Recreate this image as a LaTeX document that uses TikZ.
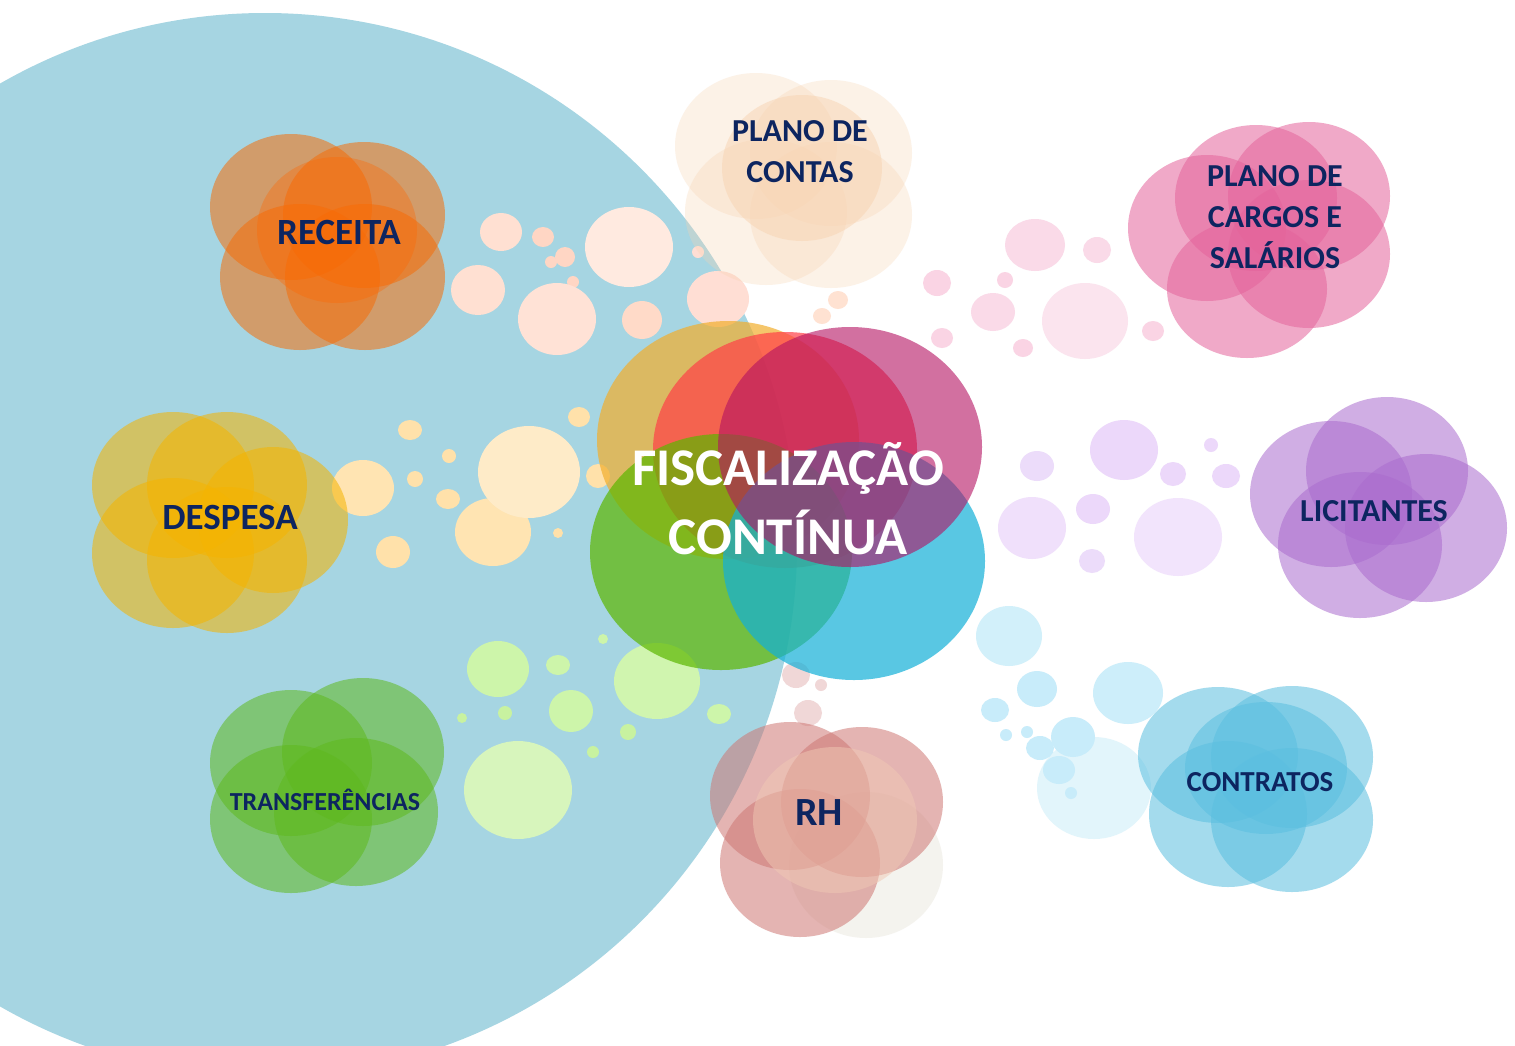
\documentclass[tikz,border=0pt]{standalone}
\usepackage{fontspec}
\setmainfont{Carlito}
\definecolor{sky}{HTML}{A6D5E2}
\definecolor{navy}{HTML}{0D2560}
\definecolor{cgold}{RGB}{242,174,45}
\definecolor{cred}{RGB}{255,63,72}
\definecolor{cmag}{RGB}{180,17,97}
\definecolor{cgreen}{RGB}{92,183,0}
\definecolor{ccyan}{RGB}{19,176,216}
\definecolor{corange}{RGB}{245,110,10}
\definecolor{cyellow}{RGB}{245,180,0}
\definecolor{cleaf}{RGB}{95,185,30}
\definecolor{cpeach}{HTML}{F8D4B2}
\definecolor{cpink}{HTML}{E4649B}
\definecolor{cviolet}{HTML}{AA6CCE}
\definecolor{cblue}{HTML}{5BBFE0}
\definecolor{crose}{HTML}{CE7773}
\begin{document}
\begin{tikzpicture}[x=1pt,y=-1pt,
  blob/.style={fill=#1,fill opacity=0.55},
  core/.style={fill=#1,fill opacity=0.7},
  tag/.style={text=navy,align=center,font=\bfseries\fontsize{#1}{41}\selectfont}]
\useasboundingbox (0,0) rectangle (1515,1045);
\clip (0,0) rectangle (1515,1045);
\fill[white] (0,0) rectangle (1515,1045);
\fill[sky] (265,545) circle (532pt);

% small bubbles
\fill[fill={rgb,255:red,255;green,224;blue,210}] (501,232) ellipse (21pt and 19pt);
\fill[fill={rgb,255:red,255;green,214;blue,196}] (543,237) ellipse (11pt and 10pt);
\fill[fill={rgb,255:red,255;green,214;blue,196}] (565,257) circle (10pt);
\fill[fill={rgb,255:red,255;green,214;blue,196}] (551,262) circle (6pt);
\fill[fill={rgb,255:red,255;green,214;blue,196}] (573,282) circle (6pt);
\fill[fill={rgb,255:red,255;green,224;blue,210}] (478,290) ellipse (27pt and 25pt);
\fill[fill={rgb,255:red,255;green,226;blue,214}] (557,319) ellipse (39pt and 36pt);
\fill[fill={rgb,255:red,255;green,234;blue,224}] (629,247) ellipse (44pt and 40pt);
\fill[fill={rgb,255:red,255;green,218;blue,200}] (642,320) ellipse (20pt and 19pt);
\fill[fill={rgb,255:red,255;green,222;blue,212}] (718,299) ellipse (31pt and 28pt);
\fill[fill={rgb,255:red,255;green,222;blue,212}] (698,252) circle (6pt);
\fill[fill={rgb,255:red,255;green,226;blue,210}] (838,300) ellipse (10pt and 9pt);
\fill[fill={rgb,255:red,255;green,226;blue,210}] (822,316) ellipse (9pt and 8pt);

\fill[fill={rgb,255:red,255;green,225;blue,170}] (410,430) ellipse (12pt and 10pt);
\fill[fill={rgb,255:red,255;green,225;blue,170}] (449,456) circle (7pt);
\fill[fill={rgb,255:red,255;green,225;blue,170}] (415,479) circle (8pt);
\fill[fill={rgb,255:red,255;green,225;blue,170}] (448,499) ellipse (12pt and 10pt);
\fill[fill={rgb,255:red,255;green,228;blue,178}] (363,488) ellipse (31pt and 28pt);
\fill[fill={rgb,255:red,255;green,225;blue,170}] (393,552) ellipse (17pt and 16pt);
\fill[fill={rgb,255:red,255;green,228;blue,178}] (493,532) ellipse (38pt and 34pt);
\fill[fill={rgb,255:red,254;green,235;blue,200}] (529,472) ellipse (51pt and 46pt);
\fill[fill={rgb,255:red,255;green,225;blue,170}] (579,417) ellipse (11pt and 10pt);
\fill[fill={rgb,255:red,255;green,225;blue,170}] (598,476) circle (12pt);
\fill[fill={rgb,255:red,255;green,225;blue,170}] (558,533) circle (5pt);

\fill[fill={rgb,255:red,205;green,245;blue,170}] (498,669) ellipse (31pt and 28pt);
\fill[fill={rgb,255:red,205;green,245;blue,170}] (558,665) ellipse (12pt and 10pt);
\fill[fill={rgb,255:red,205;green,245;blue,170}] (603,639) circle (5pt);
\fill[fill={rgb,255:red,200;green,242;blue,160}] (505,713) circle (7pt);
\fill[fill={rgb,255:red,200;green,242;blue,160}] (462,718) circle (5pt);
\fill[fill={rgb,255:red,205;green,245;blue,170}] (571,711) ellipse (22pt and 21pt);
\fill[fill={rgb,255:red,200;green,242;blue,160}] (628,732) circle (8pt);
\fill[fill={rgb,255:red,200;green,242;blue,160}] (593,752) circle (6pt);
\fill[fill={rgb,255:red,208;green,245;blue,175}] (657,681) ellipse (43pt and 38pt);
\fill[fill={rgb,255:red,205;green,245;blue,170}] (719,714) ellipse (12pt and 10pt);
\fill[fill={rgb,255:red,215;green,245;blue,188}] (518,790) ellipse (54pt and 49pt);

\fill[fill={rgb,255:red,240;green,215;blue,215}] (796,675) ellipse (14pt and 13pt);
\fill[fill={rgb,255:red,240;green,215;blue,215}] (821,685) circle (6pt);
\fill[fill={rgb,255:red,240;green,215;blue,215}] (808,713) ellipse (14pt and 13pt);

\fill[fill={rgb,255:red,250;green,218;blue,232}] (1035,245) ellipse (30pt and 26pt);
\fill[fill={rgb,255:red,250;green,218;blue,232}] (1097,250) ellipse (14pt and 13pt);
\fill[fill={rgb,255:red,250;green,212;blue,228}] (1005,280) circle (8pt);
\fill[fill={rgb,255:red,250;green,212;blue,228}] (937,283) ellipse (14pt and 13pt);
\fill[fill={rgb,255:red,250;green,218;blue,232}] (993,312) ellipse (22pt and 19pt);
\fill[fill={rgb,255:red,251;green,228;blue,238}] (1085,321) ellipse (43pt and 38pt);
\fill[fill={rgb,255:red,250;green,212;blue,228}] (1153,331) ellipse (11pt and 10pt);
\fill[fill={rgb,255:red,250;green,212;blue,228}] (1023,348) ellipse (10pt and 9pt);
\fill[fill={rgb,255:red,250;green,212;blue,228}] (942,338) ellipse (11pt and 10pt);

\fill[fill={rgb,255:red,236;green,216;blue,250}] (1124,450) ellipse (34pt and 30pt);
\fill[fill={rgb,255:red,236;green,220;blue,250}] (1037,466) ellipse (17pt and 15pt);
\fill[fill={rgb,255:red,236;green,216;blue,250}] (1173,474) ellipse (13pt and 12pt);
\fill[fill={rgb,255:red,236;green,216;blue,250}] (1211,445) circle (7pt);
\fill[fill={rgb,255:red,236;green,216;blue,250}] (1226,476) ellipse (14pt and 12pt);
\fill[fill={rgb,255:red,236;green,216;blue,250}] (1093,509) ellipse (17pt and 15pt);
\fill[fill={rgb,255:red,240;green,224;blue,251}] (1032,528) ellipse (34pt and 31pt);
\fill[fill={rgb,255:red,242;green,228;blue,252}] (1178,537) ellipse (44pt and 39pt);
\fill[fill={rgb,255:red,236;green,220;blue,250}] (1092,561) ellipse (13pt and 12pt);

\fill[fill={rgb,255:red,210;green,240;blue,250}] (1009,636) ellipse (33pt and 30pt);
\fill[fill={rgb,255:red,205;green,238;blue,250}] (1128,693) ellipse (35pt and 31pt);
\fill[fill={rgb,255:red,200;green,236;blue,250}] (1037,689) ellipse (20pt and 18pt);
\fill[fill={rgb,255:red,200;green,236;blue,250}] (995,710) ellipse (14pt and 12pt);
\fill[fill={rgb,255:red,200;green,236;blue,250}] (1006,735) circle (6pt);
\fill[fill={rgb,255:red,200;green,236;blue,250}] (1027,732) circle (6pt);
\fill[fill={rgb,255:red,226;green,245;blue,251}] (1094,788) ellipse (57pt and 51pt);
\fill[fill={rgb,255:red,200;green,236;blue,250}] (1073,737) ellipse (22pt and 20pt);
\fill[fill={rgb,255:red,200;green,236;blue,250}] (1040,748) ellipse (14pt and 12pt);
\fill[fill={rgb,255:red,200;green,236;blue,250}] (1059,770) ellipse (16pt and 14pt);
\fill[fill={rgb,255:red,200;green,236;blue,250}] (1071,793) circle (6pt);

% receita
\fill[blob=corange] (291,207) ellipse (81pt and 73pt);
\fill[blob=corange] (364,215) ellipse (81pt and 73pt);
\fill[blob=corange] (300,277) ellipse (80pt and 73pt);
\fill[blob=corange] (365,277) ellipse (80pt and 73pt);
\fill[fill={rgb,255:red,255;green,102;blue,0},fill opacity=0.35] (337,230) ellipse (80pt and 73pt);
\node[tag=37] (receita) at (339,232) {RECEITA};

% despesa
\fill[blob=cyellow] (173,485) ellipse (81pt and 73pt);
\fill[blob=cyellow] (227,485) ellipse (80pt and 73pt);
\fill[blob=cyellow] (273,520) ellipse (75pt and 73pt);
\fill[blob=cyellow] (173,553) ellipse (81pt and 75pt);
\fill[blob=cyellow] (227,560) ellipse (80pt and 73pt);
\node[tag=37] (despesa) at (230,517) {DESPESA};

% transferencias
\fill[blob=cleaf] (291,763) ellipse (81pt and 73pt);
\fill[blob=cleaf] (363,752) ellipse (81pt and 74pt);
\fill[blob=cleaf] (291,819) ellipse (81pt and 74pt);
\fill[blob=cleaf] (356,812) ellipse (82pt and 74pt);
\node[tag=26] (transf) at (325,800) {TRANSFERÊNCIAS};

% plano de contas
\fill[fill=cpeach,fill opacity=0.3] (756,146) ellipse (81pt and 73pt);
\fill[fill=cpeach,fill opacity=0.3] (831,153) ellipse (81pt and 73pt);
\fill[fill=cpeach,fill opacity=0.3] (766,212) ellipse (81pt and 73pt);
\fill[fill=cpeach,fill opacity=0.3] (831,215) ellipse (81pt and 73pt);
\fill[fill=cpeach,fill opacity=0.5] (802,168) ellipse (80pt and 73pt);
\node[tag=32] (contas) at (800,152) {PLANO DE\\CONTAS};

% plano de cargos
\fill[blob=cpink] (1256,198) ellipse (81pt and 73pt);
\fill[blob=cpink] (1309,196) ellipse (81pt and 74pt);
\fill[blob=cpink] (1207,228) ellipse (79pt and 73pt);
\fill[blob=cpink] (1309,254) ellipse (81pt and 74pt);
\fill[blob=cpink] (1247,289) ellipse (80pt and 69pt);
\node[tag=32] (cargos) at (1275,217) {PLANO DE\\CARGOS E\\SALÁRIOS};

% licitantes
\fill[blob=cviolet] (1331,494) ellipse (81pt and 73pt);
\fill[blob=cviolet] (1387,471) ellipse (81pt and 74pt);
\fill[blob=cviolet] (1426,528) ellipse (81pt and 74pt);
\fill[blob=cviolet] (1360,545) ellipse (82pt and 73pt);
\node[tag=32] (licit) at (1374,511) {LICITANTES};

% contratos
\fill[blob=cblue] (1218,755) ellipse (80pt and 68pt);
\fill[blob=cblue] (1292,757) ellipse (81pt and 71pt);
\fill[blob=cblue] (1266,768) ellipse (81pt and 66pt);
\fill[blob=cblue] (1228,814) ellipse (79pt and 73pt);
\fill[blob=cblue] (1292,820) ellipse (81pt and 72pt);
\node[tag=29] (contratos) at (1260,782) {CONTRATOS};

% rh
\fill[fill={rgb,255:red,238;green,236;blue,228},fill opacity=0.6] (866,865) ellipse (77pt and 73pt);
\fill[blob=crose] (790,796) ellipse (80pt and 74pt);
\fill[blob=crose] (862,802) ellipse (81pt and 75pt);
\fill[blob=crose] (800,863) ellipse (80pt and 74pt);
\fill[fill={rgb,255:red,240;green,200;blue,180},fill opacity=0.5] (835,820) ellipse (82pt and 73pt);
\node[tag=40] (rh) at (819,813) {RH};

% fiscalizacao continua
\fill[core=cgold] (728,440) ellipse (131pt and 119pt);
\fill[core=cred] (785,450) ellipse (132pt and 118pt);
\fill[core=cgreen] (721,552) ellipse (131pt and 118pt);
\fill[core=ccyan] (854,561) ellipse (131pt and 119pt);
\fill[fill=cmag,fill opacity=0.6] (850,447) ellipse (132pt and 120pt);
\node[text=white,align=center,font=\bfseries\fontsize{53}{69}\selectfont] (fisc) at (788,499) {FISCALIZAÇÃO\\CONTÍNUA};
\end{tikzpicture}
\end{document}
